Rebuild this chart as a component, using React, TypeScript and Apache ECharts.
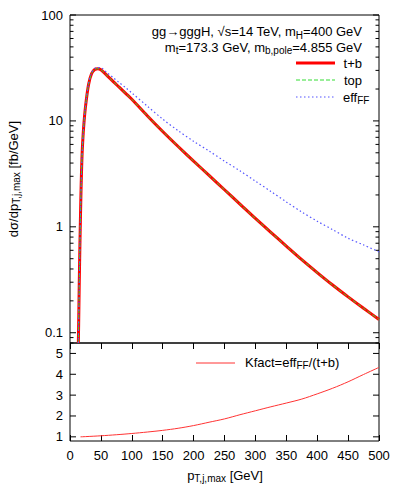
import React, { useEffect, useRef } from 'react';
import * as echarts from 'echarts';

const FONT = '"Liberation Sans", Arial, Helvetica, sans-serif';

// x positions (pT, GeV) of the upper-panel curves
const pT = [13.5, 14, 15, 16, 17, 18, 19, 20, 22, 25, 30, 35, 40, 45, 50, 60, 70, 80, 90, 100, 125, 150, 175, 200, 225, 250, 275, 300, 325, 350, 375, 400, 425, 450, 475, 500];
// dσ/dpT [fb/GeV]
const tPlusB = [0.08, 0.12, 0.3, 0.65, 1.3, 2.4, 3.9, 5.5, 8.6, 13.5, 22, 28, 30.6, 31.1, 30.4, 26.8, 23.5, 20.7, 18.2, 16.0, 11.2, 7.95, 5.73, 4.17, 3.06, 2.24, 1.64, 1.2, 0.887, 0.658, 0.49, 0.37, 0.282, 0.218, 0.17, 0.1335];
const topOnly = [0.08, 0.12, 0.3, 0.66, 1.3, 2.4, 3.9, 5.5, 8.6, 13.6, 22.1, 28.1, 30.7, 31.1, 30.4, 26.8, 23.5, 20.7, 18.2, 16.0, 11.2, 7.96, 5.74, 4.17, 3.06, 2.24, 1.64, 1.2, 0.886, 0.657, 0.491, 0.369, 0.282, 0.218, 0.17, 0.1335];
const effFF = [0.08, 0.12, 0.3, 0.65, 1.3, 2.4, 3.9, 5.5, 8.7, 13.7, 22.4, 28.6, 31.3, 31.9, 31.8, 28.5, 25.6, 22.9, 20.6, 18.4, 13.8, 10.4, 8.08, 6.42, 5.2, 4.17, 3.38, 2.7, 2.16, 1.72, 1.38, 1.13, 0.94, 0.78, 0.675, 0.58];

// lower panel: K factor
const kPT = [17, 25, 50, 75, 100, 125, 150, 175, 200, 225, 250, 275, 300, 325, 350, 375, 400, 425, 450, 475, 500];
const kFact = [1.0, 1.01, 1.05, 1.1, 1.16, 1.23, 1.31, 1.41, 1.54, 1.7, 1.86, 2.06, 2.25, 2.44, 2.62, 2.81, 3.06, 3.33, 3.64, 3.99, 4.33];

// tick labels
const upperMajorTicks = [0.1, 1, 10, 100];
const upperMajorLabels = ['0.1', '1', '10', '100'];
const lowerMajorTicks = [1, 2, 3, 4, 5];
const lowerMajorLabels = ['1', '2', '3', '4', '5'];

const upperMinorTicks: number[] = [];
[0.01, 0.1, 1, 10].forEach((d) => {
  for (let m = 2; m <= 9; m++) {
    const v = +(m * d).toPrecision(3);
    if (v >= 0.08 && v < 100) upperMinorTicks.push(v);
  }
});

const richBase = {
  n: { fontSize: 13, fontFamily: FONT, color: '#000', lineHeight: 13, verticalAlign: 'middle' },
  s: { fontSize: 10, fontFamily: FONT, color: '#000', lineHeight: 8, padding: [7, 0, 0, 0], verticalAlign: 'middle' },
};

function tickRenderer(labels: string[], xMax: number) {
  return (params: any, api: any) => {
    const major = api.value(0) === 1;
    const v = api.value(1);
    const L = api.coord([0, v]);
    const R = api.coord([xMax, v]);
    const len = major ? 6 : 3.5;
    const children: any[] = [
      { type: 'line', shape: { x1: L[0], y1: L[1], x2: L[0] + len, y2: L[1] }, style: { stroke: '#000', lineWidth: 1 } },
      { type: 'line', shape: { x1: R[0] - len, y1: R[1], x2: R[0], y2: R[1] }, style: { stroke: '#000', lineWidth: 1 } },
    ];
    if (major) {
      children.push({
        type: 'text',
        x: L[0] - 7,
        y: L[1],
        style: { text: labels[params.dataIndex], align: 'right', verticalAlign: 'middle', fontSize: 13, fontFamily: FONT, fill: '#000' },
      });
    }
    return { type: 'group', children };
  };
}

export default function App() {
  const ref = useRef<HTMLDivElement>(null);
  useEffect(() => {
    if (!ref.current) return;
    const chart = echarts.init(ref.current, null, { renderer: 'svg' });
    const zip = (xs: number[], ys: number[]) => xs.map((x, i) => [x, ys[i]]);
    const hiddenAxis = {
      axisLine: { show: false },
      axisTick: { show: false },
      axisLabel: { show: false },
      splitLine: { show: false },
    };
    const option: any = {
      animation: false,
      grid: [
        { left: 70, top: 15, width: 309, height: 328, show: true, borderColor: '#000', borderWidth: 1 },
        { left: 70, top: 343, width: 309, height: 98, show: true, borderColor: '#000', borderWidth: 1 },
      ],
      xAxis: [
        { gridIndex: 0, type: 'value', min: 0, max: 500, ...hiddenAxis },
        {
          gridIndex: 1, type: 'value', min: 0, max: 500, interval: 50, position: 'bottom',
          axisLine: { show: false },
          axisTick: { show: true, inside: true, length: 6, lineStyle: { color: '#000', width: 1 } },
          axisLabel: { show: true, fontSize: 13, color: '#000', fontFamily: FONT, margin: 8 },
          splitLine: { show: false },
        },
        {
          gridIndex: 1, type: 'value', min: 0, max: 500, interval: 50, position: 'top',
          axisLine: { show: false },
          axisTick: { show: true, inside: true, length: 6, lineStyle: { color: '#000', width: 1 } },
          axisLabel: { show: false },
          splitLine: { show: false },
        },
      ],
      yAxis: [
        { gridIndex: 0, type: 'log', logBase: 10, min: 0.08, max: 100, ...hiddenAxis },
        { gridIndex: 1, type: 'value', min: 0.8, max: 5.5, ...hiddenAxis },
      ],
      series: [
        {
          name: 't+b', type: 'line', xAxisIndex: 0, yAxisIndex: 0, data: zip(pT, tPlusB),
          showSymbol: false, symbol: 'none', smooth: 0.3, clip: true,
          lineStyle: { color: '#ff0000', width: 3 },
        },
        {
          name: 'top', type: 'line', xAxisIndex: 0, yAxisIndex: 0, data: zip(pT, topOnly),
          showSymbol: false, symbol: 'none', smooth: 0.3, clip: true,
          lineStyle: { color: '#33dd33', width: 1, type: [4, 2] },
        },
        {
          name: 'effFF', type: 'line', xAxisIndex: 0, yAxisIndex: 0, data: zip(pT, effFF),
          showSymbol: false, symbol: 'none', smooth: 0.3, clip: true,
          lineStyle: { color: '#5555ff', width: 1.2, type: [1.5, 2.5] },
        },
        {
          name: 'Kfact', type: 'line', xAxisIndex: 1, yAxisIndex: 1, data: zip(kPT, kFact),
          showSymbol: false, symbol: 'none', smooth: 0.3, clip: true,
          lineStyle: { color: '#ff3333', width: 1 },
        },
        {
          name: 'upperTicks', type: 'custom', xAxisIndex: 0, yAxisIndex: 0, silent: true,
          data: [...upperMajorTicks.map((v) => [1, v]), ...upperMinorTicks.map((v) => [0, v])],
          renderItem: tickRenderer(upperMajorLabels, 500),
        },
        {
          name: 'lowerTicks', type: 'custom', xAxisIndex: 1, yAxisIndex: 1, silent: true,
          data: lowerMajorTicks.map((v) => [1, v]),
          renderItem: tickRenderer(lowerMajorLabels, 500),
        },
      ],
      graphic: [
        // header lines
        { type: 'text', x: 362, y: 31.5, style: { text: '{n|gg→gggH, √s=14 TeV, m}{s|H}{n|=400 GeV}', rich: richBase, align: 'right', verticalAlign: 'middle' } },
        { type: 'text', x: 362, y: 47, style: { text: '{n|m}{s|t}{n|=173.3 GeV, m}{s|b,pole}{n|=4.855 GeV}', rich: richBase, align: 'right', verticalAlign: 'middle' } },
        // legend upper
        { type: 'line', shape: { x1: 296, y1: 63, x2: 335, y2: 63 }, style: { stroke: '#ff0000', lineWidth: 3 } },
        { type: 'text', x: 362, y: 63, style: { text: '{n|t+b}', rich: richBase, align: 'right', verticalAlign: 'middle' } },
        { type: 'line', shape: { x1: 296, y1: 80, x2: 335, y2: 80 }, style: { stroke: '#33dd33', lineWidth: 1, lineDash: [4, 2] } },
        { type: 'text', x: 362, y: 80, style: { text: '{n|top}', rich: richBase, align: 'right', verticalAlign: 'middle' } },
        { type: 'line', shape: { x1: 296, y1: 97, x2: 335, y2: 97 }, style: { stroke: '#5555ff', lineWidth: 1.2, lineDash: [1.5, 2.5] } },
        { type: 'text', x: 343, y: 97, style: { text: '{n|eff}{s|FF}', rich: richBase, align: 'left', verticalAlign: 'middle' } },
        // legend lower
        { type: 'line', shape: { x1: 196, y1: 363, x2: 235, y2: 363 }, style: { stroke: '#ff3333', lineWidth: 1 } },
        { type: 'text', x: 245, y: 362, style: { text: '{n|Kfact=eff}{s|FF}{n|/(t+b)}', rich: richBase, align: 'left', verticalAlign: 'middle' } },
        // axis titles
        { type: 'text', x: 13, y: 179, rotation: Math.PI / 2, style: { text: '{n|dσ/dp}{s|T,j,max}{n| [fb/GeV]}', rich: richBase, align: 'center', verticalAlign: 'middle' } },
        { type: 'text', x: 225, y: 475, style: { text: '{n|p}{s|T,j,max}{n| [GeV]}', rich: richBase, align: 'center', verticalAlign: 'middle' } },
      ],
    };
    chart.setOption(option);
    return () => chart.dispose();
  }, []);
  return (
    <div
      ref={ref}
      style={{ position: 'fixed', left: 0, top: 0, width: 398, height: 491, background: '#fff' }}
    />
  );
}
